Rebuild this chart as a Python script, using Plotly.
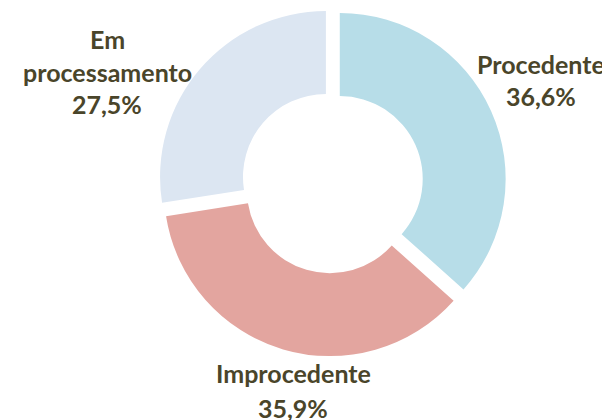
import plotly.graph_objects as go

categories = ["Procedente", "Improcedente", "Em processamento"]
name_lines = ["Procedente", "Improcedente", "Em<br>processamento"]
values = [36.6, 35.9, 27.5]
colors = ["#B7DDE8", "#E3A59F", "#DCE6F2"]

W, H = 610, 420
TEXT_COLOR = "#4A452A"
FONT = "Lato"

fig = go.Figure(go.Pie(
    labels=categories,
    values=values,
    sort=False,
    direction="clockwise",
    rotation=0,
    hole=0.5,
    pull=[0.05, 0.05, 0.05],
    marker=dict(colors=colors, line=dict(width=0)),
    textinfo="none",
    hoverinfo="label+percent",
    showlegend=False,
    domain=dict(x=[0.246, 0.817], y=[0.170, 1.0]),
))

# label layout (pixel centres): name block, percentage line
label_pos = {
    "Procedente": dict(x=533, name_y=56, pct_y=88),
    "Improcedente": dict(x=285, name_y=365, pct_y=400),
    "Em processamento": dict(x=99, name_y=47, pct_y=96),
}

total = sum(values)
for cat, nm, v in zip(categories, name_lines, values):
    p = label_pos[cat]
    pct = f"{v / total * 100:.1f}".replace(".", ",") + "%"
    for txt, py in ((nm, p["name_y"]), (pct, p["pct_y"])):
        fig.add_annotation(
            x=p["x"] / W, y=1 - py / H, xref="paper", yref="paper",
            text=f"<b>{txt}</b>", showarrow=False,
            xanchor="center", yanchor="middle",
            font=dict(family=FONT, size=25, color=TEXT_COLOR),
        )

fig.update_layout(
    width=W, height=H,
    margin=dict(l=0, r=0, t=0, b=0),
    paper_bgcolor="white", plot_bgcolor="white",
)

fig.write_html("out.html")
